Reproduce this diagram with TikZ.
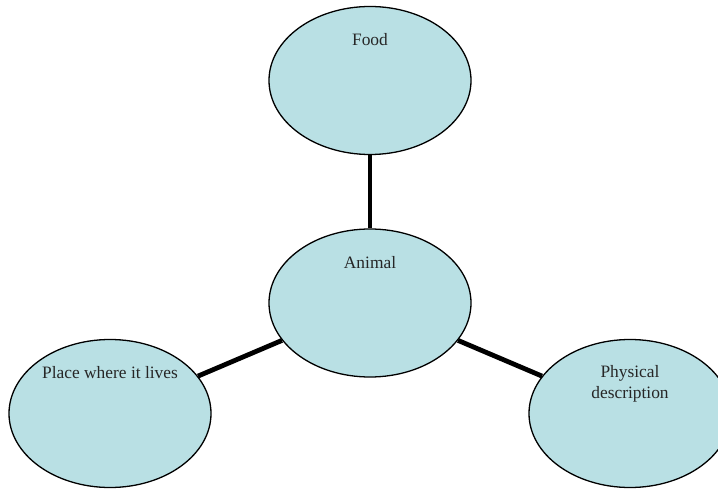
\documentclass[tikz,border=0pt]{standalone}
\usepackage{fontspec}
\setmainfont{Liberation Serif}
\usepackage{tikz}
\usetikzlibrary{shapes.geometric}

\tikzset{
  bubble/.style={ellipse, draw=black, line width=1.3pt, fill=bubblefill,
    minimum width=202pt, minimum height=148pt, inner sep=0pt},
  lbl/.style={anchor=base, align=center, inner sep=0pt,
    font=\fontsize{17.4}{21}\selectfont, text=black!85},
  link/.style={black, line width=4.8pt}
}
\definecolor{bubblefill}{RGB}{185,224,228}

\begin{document}
\begin{tikzpicture}[x=1pt, y=-1pt]
\useasboundingbox (0,0) rectangle (718,489);
\clip (0,0) rectangle (718,489);
\node [bubble] (animal) at (370,303) {};
\node [bubble, above of=animal, node distance=222.5pt] (food) {};
\node [bubble] (place) at (110,413.5) {};
\node [bubble] (phys) at (630,413.5) {};
\node [lbl] (foodtxt) at ([yshift=-40pt]food.north) {Food};
\node [lbl] (animaltxt) at ([yshift=-40pt]animal.north) {Animal};
\node [lbl] (placetxt) at ([yshift=-40pt]place.north) {Place where it lives};
% base of a two-line node sits on its last line
\node [lbl] (phystxt) at ([yshift=-60pt]phys.north) {Physical\\description};
\draw [link] (food) -- (animal);
\draw [link] (animal) -- (place);
\draw [link] (animal) -- (phys);
\end{tikzpicture}
\end{document}
